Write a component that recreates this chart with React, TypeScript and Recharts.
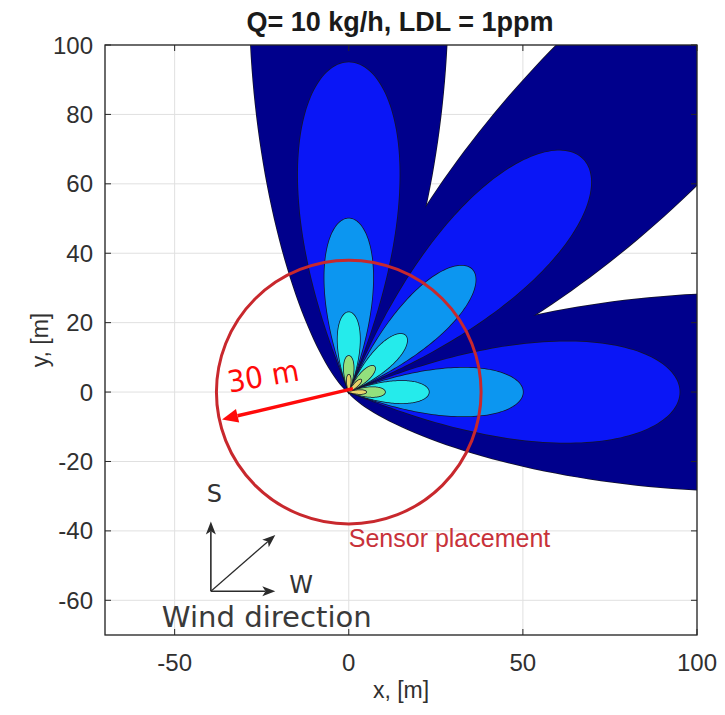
import React from 'react';
import {
  ComposedChart,
  XAxis,
  YAxis,
  CartesianGrid,
  Scatter,
  ReferenceArea,
  ReferenceLine,
  ReferenceDot,
} from 'recharts';

// axes, [m]
const xDomain = [-70, 100];
const yDomain = [-70, 100];
const xTicks = [-50, 0, 50, 100];
const yTicks = [-60, -40, -20, 0, 20, 40, 60, 80, 100];

// plume axis for each wind case, degrees from +x
const windAngles = [90, 45, 0];

// filled contour levels, outermost first: reach from source and widest half-width, [m]
const contourLength = [200, 95, 50, 23, 10.4, 5];
const contourHalfWidth = [28.5, 14.6, 7, 3.2, 1.4, 0.55];
const contourColors = ['#00008c', '#0a16f6', '#0c96f0', '#25ebeb', '#93e07d', '#e6d36a'];
// how fast each contour opens up near the source
const contourExponent = [0.9, 1.2, 1.2, 1.2, 1.2, 1.2];

const source = [{ x: 0, y: 0 }];
const sensorRadius = 38;
const rangeArrow = [{ x: 1.2, y: 1 }, { x: -36.4, y: -7.9 }];

// wind rose in the lower left corner
const windOrigin = { x: -39.6, y: -57.4 };
const windTips = [
  { x: -39.6, y: -37.3 },
  { x: -21.1, y: -41.2 },
  { x: -21.1, y: -57.4 },
];

const FONT = '"Liberation Sans", Arial, sans-serif';
const GOTHIC = '"DejaVu Sans", sans-serif';
const AXIS_COLOR = '#303030';

// outline of one plume contour, in data units
function plumeOutline(angleDeg: number, len: number, halfW: number, p: number) {
  const th = (angleDeg * Math.PI) / 180;
  const sPeak = Math.exp(-1 / (2 * p));
  const gMax = Math.pow(sPeak, p) * Math.sqrt(-Math.log(sPeak));
  const n = 90;
  const side: number[][] = [];
  for (let i = 0; i <= n; i++) {
    const s = (1 - Math.cos((Math.PI * i) / n)) / 2;
    const g = s <= 0 || s >= 1 ? 0 : Math.pow(s, p) * Math.sqrt(-Math.log(s));
    side.push([s * len, (halfW * g) / gMax]);
  }
  const ring = [...side, ...side.slice().reverse().map(([a, w]) => [a, -w])];
  return ring.map(([a, w]) => ({
    x: a * Math.cos(th) - w * Math.sin(th),
    y: a * Math.sin(th) + w * Math.cos(th),
  }));
}

// map data -> pixels using the rect recharts gives for the full domain
const makeMapper = (r: any) => ({
  px: (v: number) => r.x + ((v - xDomain[0]) / (xDomain[1] - xDomain[0])) * r.width,
  py: (v: number) => r.y + ((yDomain[1] - v) / (yDomain[1] - yDomain[0])) * r.height,
});

const levelShape = (level: number) => (props: any) => {
  const m = makeMapper(props);
  const paths = windAngles.map((a) => {
    const pts = plumeOutline(a, contourLength[level], contourHalfWidth[level], contourExponent[level]);
    return 'M' + pts.map((q) => `${m.px(q.x).toFixed(2)},${m.py(q.y).toFixed(2)}`).join('L') + 'Z';
  });
  return (
    <g clipPath={props.clipPath}>
      {paths.map((d, i) => (
        <path key={'s' + i} d={d} fill="none" stroke="#141428" strokeWidth={1.5} />
      ))}
      {paths.map((d, i) => (
        <path key={'f' + i} d={d} fill={contourColors[level]} stroke="none" />
      ))}
    </g>
  );
};

const ringShape = (props: any) => (
  <ellipse
    cx={props.x + props.width / 2}
    cy={props.y + props.height / 2}
    rx={props.width / 2}
    ry={props.height / 2}
    fill="none"
    stroke="#c8282d"
    strokeWidth={3}
  />
);

const frameShape = (props: any) => {
  const m = makeMapper(props);
  const { x, y, width, height } = props;
  const t = 6;
  return (
    <g>
      <rect x={x} y={y} width={width} height={height} fill="none" stroke="#262626" strokeWidth={1.3} />
      {xTicks.map((v) => (
        <g key={'xt' + v}>
          <line x1={m.px(v)} x2={m.px(v)} y1={y + height} y2={y + height - t} stroke="#262626" />
          <line x1={m.px(v)} x2={m.px(v)} y1={y} y2={y + t} stroke="#262626" />
        </g>
      ))}
      {yTicks.map((v) => (
        <g key={'yt' + v}>
          <line x1={x} x2={x + t} y1={m.py(v)} y2={m.py(v)} stroke="#262626" />
          <line x1={x + width} x2={x + width - t} y1={m.py(v)} y2={m.py(v)} stroke="#262626" />
        </g>
      ))}
    </g>
  );
};

const arrowShape = (color: string, w: number, headLen: number, headW: number, notch: number) => (props: any) => {
  const { x1, y1, x2, y2 } = props;
  const dx = x2 - x1;
  const dy = y2 - y1;
  const len = Math.hypot(dx, dy);
  const ux = dx / len;
  const uy = dy / len;
  const bx = x2 - ux * headLen;
  const by = y2 - uy * headLen;
  const nx = bx + ux * headLen * notch;
  const ny = by + uy * headLen * notch;
  const ox = (-uy * headW) / 2;
  const oy = (ux * headW) / 2;
  return (
    <g>
      <line x1={x1} y1={y1} x2={nx} y2={ny} stroke={color} strokeWidth={w} />
      <polygon points={`${x2},${y2} ${bx + ox},${by + oy} ${nx},${ny} ${bx - ox},${by - oy}`} fill={color} />
    </g>
  );
};

const textShape = (text: string, style: any) => (props: any) => (
  <text x={props.cx} y={props.cy} {...style}>
    {text}
  </text>
);

const XTick = (props: any) => (
  <text x={props.x} y={props.y + 36} textAnchor="middle" fontSize={24} fill={AXIS_COLOR} fontFamily={FONT}>
    {props.payload.value}
  </text>
);

const YTick = (props: any) => (
  <text x={props.x - 12} y={props.y + 8.5} textAnchor="end" fontSize={24} fill={AXIS_COLOR} fontFamily={FONT}>
    {props.payload.value}
  </text>
);

export default function App() {
  return (
    <div style={{ position: 'absolute', left: 0, top: 0, width: 725, height: 715, background: '#fff' }}>
      <ComposedChart
        width={725}
        height={715}
        margin={{ top: 45, right: 28, bottom: 0, left: 0 }}
        style={{ fontFamily: FONT }}
      >
        <CartesianGrid stroke="#e0e0e0" strokeWidth={1} />
        <XAxis
          type="number"
          dataKey="x"
          domain={xDomain}
          ticks={xTicks}
          allowDataOverflow
          height={80}
          axisLine={false}
          tickLine={false}
          tickSize={0}
          tickMargin={0}
          tick={<XTick />}
          label={{ value: 'x, [m]', position: 'insideBottom', offset: 17, fontSize: 23, fill: AXIS_COLOR }}
        />
        <YAxis
          type="number"
          dataKey="y"
          domain={yDomain}
          ticks={yTicks}
          allowDataOverflow
          width={105}
          axisLine={false}
          tickLine={false}
          tickSize={0}
          tickMargin={0}
          tick={<YTick />}
          label={{
            value: 'y, [m]',
            angle: -90,
            position: 'insideLeft',
            offset: 40,
            fontSize: 23,
            fill: AXIS_COLOR,
            style: { textAnchor: 'middle' },
          }}
        />
        <Scatter data={source} dataKey="y" isAnimationActive={false} shape={() => <g />} />

        {contourLength.map((_, i) => (
          <ReferenceArea
            key={'lvl' + i}
            x1={xDomain[0]}
            x2={xDomain[1]}
            y1={yDomain[0]}
            y2={yDomain[1]}
            ifOverflow="hidden"
            shape={levelShape(i)}
          />
        ))}

        <ReferenceArea
          x1={-sensorRadius}
          x2={sensorRadius}
          y1={-sensorRadius}
          y2={sensorRadius}
          ifOverflow="visible"
          shape={ringShape}
        />

        <ReferenceLine segment={rangeArrow} ifOverflow="visible" shape={arrowShape('#ff0a0a', 3.5, 16, 14, 0)} />
        {windTips.map((tip, i) => (
          <ReferenceLine
            key={'w' + i}
            segment={[windOrigin, tip]}
            ifOverflow="visible"
            shape={arrowShape('#2b2b2b', i === 1 ? 1.2 : 1.6, 13, 10, 0.25)}
          />
        ))}

        <ReferenceDot
          x={-24.6}
          y={4.6}
          ifOverflow="visible"
          shape={(p: any) => (
            <text
              x={p.cx}
              y={p.cy}
              textAnchor="middle"
              dominantBaseline="central"
              fontSize={30}
              fontFamily={GOTHIC}
              fill="#ff0a0a"
              textLength={72}
              lengthAdjust="spacingAndGlyphs"
              transform={`rotate(-10 ${p.cx} ${p.cy})`}
            >
              30 m
            </text>
          )}
        />
        <ReferenceDot
          x={0}
          y={-44.7}
          ifOverflow="visible"
          shape={textShape('Sensor placement', { fontSize: 25, fill: '#c8323a', fontFamily: FONT })}
        />
        <ReferenceDot
          x={-38.6}
          y={-31.6}
          ifOverflow="visible"
          shape={textShape('S', { fontSize: 24, fill: '#333', fontFamily: GOTHIC, textAnchor: 'middle' })}
        />
        <ReferenceDot
          x={-13.7}
          y={-57.9}
          ifOverflow="visible"
          shape={textShape('W', { fontSize: 24, fill: '#333', fontFamily: GOTHIC, textAnchor: 'middle' })}
        />
        <ReferenceDot
          x={-53.7}
          y={-67.6}
          ifOverflow="visible"
          shape={textShape('Wind direction', {
            fontSize: 29,
            fill: '#3a3a3a',
            fontFamily: GOTHIC,
            textLength: 210,
            lengthAdjust: 'spacingAndGlyphs',
          })}
        />

        <ReferenceArea
          x1={xDomain[0]}
          x2={xDomain[1]}
          y1={yDomain[0]}
          y2={yDomain[1]}
          ifOverflow="visible"
          shape={frameShape}
        />
      </ComposedChart>
      <svg width={725} height={45} style={{ position: 'absolute', left: 0, top: 0, pointerEvents: 'none' }}>
        <text x={400} y={31} textAnchor="middle" fontSize={27} fontWeight="bold" fill="#1a1a1a" fontFamily={FONT}>
          Q= 10 kg/h, LDL = 1ppm
        </text>
      </svg>
    </div>
  );
}
